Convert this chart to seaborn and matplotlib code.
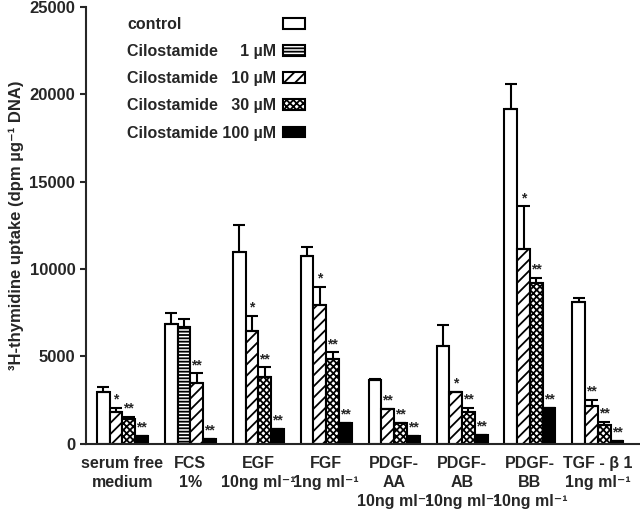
import numpy as np
import pandas as pd
import matplotlib
matplotlib.use("Agg")
import matplotlib.pyplot as plt
import seaborn as sns
from matplotlib.patches import Patch

nan = np.nan

# group labels on the x axis
groups = ["serum free\nmedium", "FCS\n1%", "EGF\n10ng ml⁻¹", "FGF\n1ng ml⁻¹",
          "PDGF-\nAA\n10ng ml⁻¹", "PDGF-\nAB\n10ng ml⁻¹", "PDGF-\nBB\n10ng ml⁻¹",
          "TGF - β 1\n1ng ml⁻¹"]

legend_labels = ["control",
                 "Cilostamide \u2007\u20071 µM",
                 "Cilostamide \u200710 µM",
                 "Cilostamide \u200730 µM",
                 "Cilostamide 100 µM"]

# mean values (dpm per ug DNA)
control_mean = [2950, 6870, 10960, 10740, 3640, 5620, 19140, 8120]
c1_mean = [nan, 6700, nan, nan, nan, nan, nan, nan]
c10_mean = [1820, 3460, 6480, 7950, 1990, 2950, 11130, 2160]
c30_mean = [1420, nan, 3800, 4880, 1190, 1820, 9200, 1080]
c100_mean = [450, 280, 850, 1190, 450, 510, 2040, 170]

# upper error bars
control_err = [290, 630, 1540, 510, 60, 1200, 1420, 230]
c1_err = [nan, 460, nan, nan, nan, nan, nan, nan]
c10_err = [220, 570, 850, 1030, 0, 0, 2450, 340]
c30_err = [110, nan, 570, 350, 0, 220, 290, 170]
c100_err = [0, 0, 0, 0, 0, 0, 0, 0]

# significance marks
control_sig = [""] * 8
c1_sig = [""] * 8
c10_sig = ["*", "**", "*", "*", "**", "*", "*", "**"]
c30_sig = ["**", "", "**", "**", "**", "**", "**", "**"]
c100_sig = ["**"] * 8

means = [control_mean, c1_mean, c10_mean, c30_mean, c100_mean]
errs = [control_err, c1_err, c10_err, c30_err, c100_err]
sigs = [control_sig, c1_sig, c10_sig, c30_sig, c100_sig]

# bars sit side by side in each group, missing conditions leave no gap
rows = []
for gi, g in enumerate(groups):
    slot = 0
    for ci in range(5):
        if np.isnan(means[ci][gi]):
            continue
        rows.append(dict(group=g, slot="s%d" % slot, cond=ci, value=means[ci][gi],
                         err=errs[ci][gi], sig=sigs[ci][gi]))
        slot += 1
df = pd.DataFrame(rows)

sns.set_style("ticks")
plt.rcParams["font.family"] = ["Liberation Sans", "DejaVu Sans"]
plt.rcParams["font.weight"] = "bold"
plt.rcParams["hatch.linewidth"] = 1.3

faces = ["white", "white", "white", "white", "black"]
hatches = ["", "-----", "///", "xxxxx", ""]

fig = plt.figure(figsize=(6.4, 5.09), dpi=100)
ax = fig.add_axes([0.134, 0.128, 0.866, 0.8585])

slots = ["s0", "s1", "s2", "s3"]
sns.barplot(data=df, x="group", y="value", hue="slot", order=groups, hue_order=slots,
            width=0.75, gap=0, errorbar=None, palette=["white"] * 4,
            edgecolor="black", linewidth=1.5, legend=False, ax=ax)

bar_containers = list(ax.containers)
for k, cont in enumerate(bar_containers):
    for gi, bar in enumerate(cont):
        sel = df[(df.group == groups[gi]) & (df.slot == slots[k])]
        if sel.empty:
            continue
        r = sel.iloc[0]
        bar.set_facecolor(faces[r.cond])
        bar.set_hatch(hatches[r.cond])
        bar.set_edgecolor("black")
        xc = bar.get_x() + bar.get_width() / 2
        ax.errorbar([xc], [r.value], yerr=[[0], [r.err]], fmt="none", ecolor="black",
                    elinewidth=1.5, capsize=4.5, capthick=1.5)
        if r.sig:
            ax.annotate(r.sig, (xc, r.value + r.err), xytext=(0, 1),
                        textcoords="offset points", ha="center", va="bottom",
                        fontsize=10, fontweight="bold")

ax.set_ylim(0, 25000)
ax.set_xlim(-0.54, 7.62)
ax.set_yticks([0, 5000, 10000, 15000, 20000, 25000])
ax.tick_params(axis="y", direction="out", length=4, width=1.5, labelsize=12)
ax.tick_params(axis="x", length=0, pad=8.5, labelsize=11.5)
for lab in ax.get_xticklabels():
    lab.set_linespacing(1.33)
ax.set_xlabel("")
ax.set_ylabel("³H-thymidine uptake (dpm µg⁻¹ DNA)", fontsize=12, fontweight="bold")
for sp in ["top", "right"]:
    ax.spines[sp].set_visible(False)
for sp in ["left", "bottom"]:
    ax.spines[sp].set_linewidth(1.5)

# legend: left-aligned text column and a separate column of swatches
leg_kw = dict(loc="upper left", bbox_transform=fig.transFigure, frameon=False,
              handleheight=0.66, labelspacing=0.76, borderpad=0, borderaxespad=0,
              prop=dict(size=11.5, weight="bold"))
blank = [Patch(visible=False) for _ in legend_labels]
leg_text = ax.legend(blank, legend_labels, bbox_to_anchor=(127 / 640, 1 - 17 / 509),
                     handlelength=0, handletextpad=0, **leg_kw)
ax.add_artist(leg_text)
handles = [Patch(facecolor=faces[i], edgecolor="black", hatch=hatches[i], linewidth=1.5)
           for i in range(5)]
ax.legend(handles, [" "] * 5, bbox_to_anchor=(283 / 640, 1 - 17 / 509),
          handlelength=1.35, handletextpad=0, **leg_kw)

fig.savefig("out.png", dpi=100)
